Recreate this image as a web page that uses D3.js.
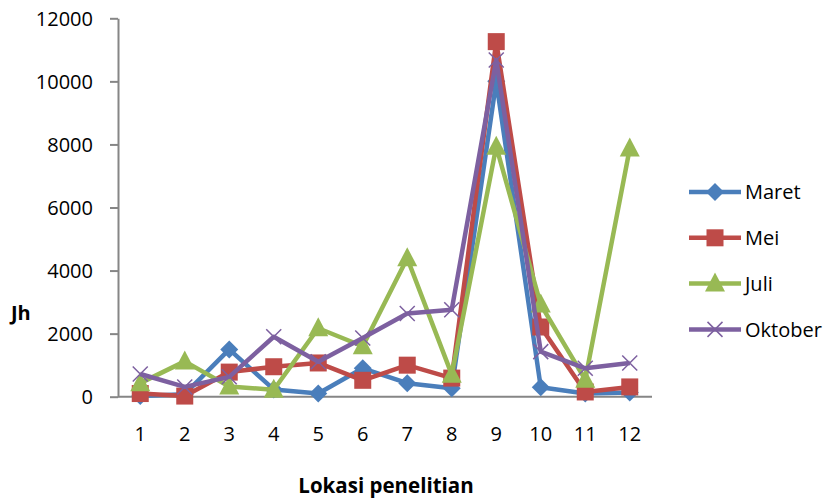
<!DOCTYPE html>
<meta charset="utf-8">
<style>
body {
  margin: 0;
  background: #fff;
  font-family: "Open Sans", sans-serif;
}
.axis path, .axis line {
  stroke: #868686;
  stroke-width: 2;
}
.axis text {
  font-size: 20px;
  fill: #000;
  font-family: "Open Sans", sans-serif;
}
</style>
<body>
<script src="https://cdn.jsdelivr.net/npm/d3@7"></script>
<script>

var width = 832,
    height = 501;

var lokasi = [1, 2, 3, 4, 5, 6, 7, 8, 9, 10, 11, 12];
var yTicks = [0, 2000, 4000, 6000, 8000, 10000, 12000];

var maret   = [20, 80, 1500, 230, 100, 900, 430, 270, 10000, 300, 100, 130];
var mei     = [100, 20, 780, 950, 1070, 520, 1000, 590, 11260, 2210, 150, 310];
var juli    = [430, 1120, 320, 220, 2170, 1600, 4390, 700, 7930, 2920, 540, 7870];
var oktober = [720, 310, 630, 1900, 1110, 1860, 2640, 2760, 10680, 1430, 900, 1070];

var series = [
  {name: "Maret",   values: maret,   color: "#4a7ebb", marker: "diamond"},
  {name: "Mei",     values: mei,     color: "#be4b48", marker: "square"},
  {name: "Juli",    values: juli,    color: "#98b954", marker: "triangle"},
  {name: "Oktober", values: oktober, color: "#7d60a0", marker: "cross"}
];

var svg = d3.select("body").append("svg")
    .attr("width", width)
    .attr("height", height);

var x = d3.scaleBand()
    .domain(lokasi)
    .range([118, 652]);

var y = d3.scaleLinear()
    .domain([0, 12000])
    .range([396.7, 18.3]);

function cx(d) { return x(d) + x.bandwidth() / 2; }

// axes
svg.append("g")
    .attr("class", "axis")
    .attr("transform", "translate(118,0)")
    .call(d3.axisLeft(y).tickValues(yTicks).tickFormat(d3.format("d"))
      .tickSize(8).tickPadding(17).tickSizeOuter(0))
  .selectAll("text")
    .attr("dy", "0.36em");

var xa = svg.append("g")
    .attr("class", "axis")
    .attr("transform", "translate(0,396.7)")
    .call(d3.axisBottom(x).tickSize(0).tickPadding(30).tickSizeOuter(0));
xa.select(".domain").attr("d", "M118,0H652");

// axis titles
svg.append("text")
    .attr("x", 386)
    .attr("y", 493)
    .attr("text-anchor", "middle")
    .style("font-size", "20.5px")
    .style("font-weight", "bold")
    .text("Lokasi penelitian");

svg.append("text")
    .attr("x", 11)
    .attr("y", 320)
    .style("font-size", "20px")
    .style("font-weight", "bold")
    .text("Jh");

function drawMarker(g, type, color) {
  if (type === "diamond") {
    g.append("path").attr("d", "M0,-9L9,0L0,9L-9,0Z").attr("fill", color);
  } else if (type === "square") {
    g.append("rect").attr("x", -8.5).attr("y", -8.5).attr("width", 17).attr("height", 17).attr("fill", color);
  } else if (type === "triangle") {
    g.append("path").attr("d", "M0,-11L10,8L-10,8Z").attr("fill", color);
  } else {
    g.append("path").attr("d", "M-7.5,-7.5L7.5,7.5M-7.5,7.5L7.5,-7.5")
      .attr("stroke", color).attr("stroke-width", 1.5).attr("fill", "none");
  }
}

var line = d3.line()
    .x(function(d, i) { return cx(lokasi[i]); })
    .y(function(d) { return y(d); });

series.forEach(function(s) {
  var g = svg.append("g");
  g.append("path")
      .attr("d", line(s.values))
      .attr("fill", "none")
      .attr("stroke", s.color)
      .attr("stroke-width", 4.5)
      .attr("stroke-linejoin", "round");
  g.selectAll(".m")
      .data(s.values)
    .enter().append("g")
      .attr("transform", function(d, i) { return "translate(" + cx(lokasi[i]) + "," + y(d) + ")"; })
      .each(function() { drawMarker(d3.select(this), s.marker, s.color); });
});

// legend
var legend = svg.selectAll(".legend")
    .data(series)
  .enter().append("g")
    .attr("transform", function(d, i) { return "translate(689," + (192 + i * 45.8) + ")"; });

legend.append("line")
    .attr("x1", 0).attr("x2", 52)
    .attr("stroke", function(d) { return d.color; })
    .attr("stroke-width", 4.5);

legend.append("g")
    .attr("transform", "translate(26,0)")
    .each(function(d) { drawMarker(d3.select(this), d.marker, d.color); });

legend.append("text")
    .attr("x", 56)
    .attr("dy", "0.36em")
    .style("font-size", "20px")
    .text(function(d) { return d.name; });

</script>
